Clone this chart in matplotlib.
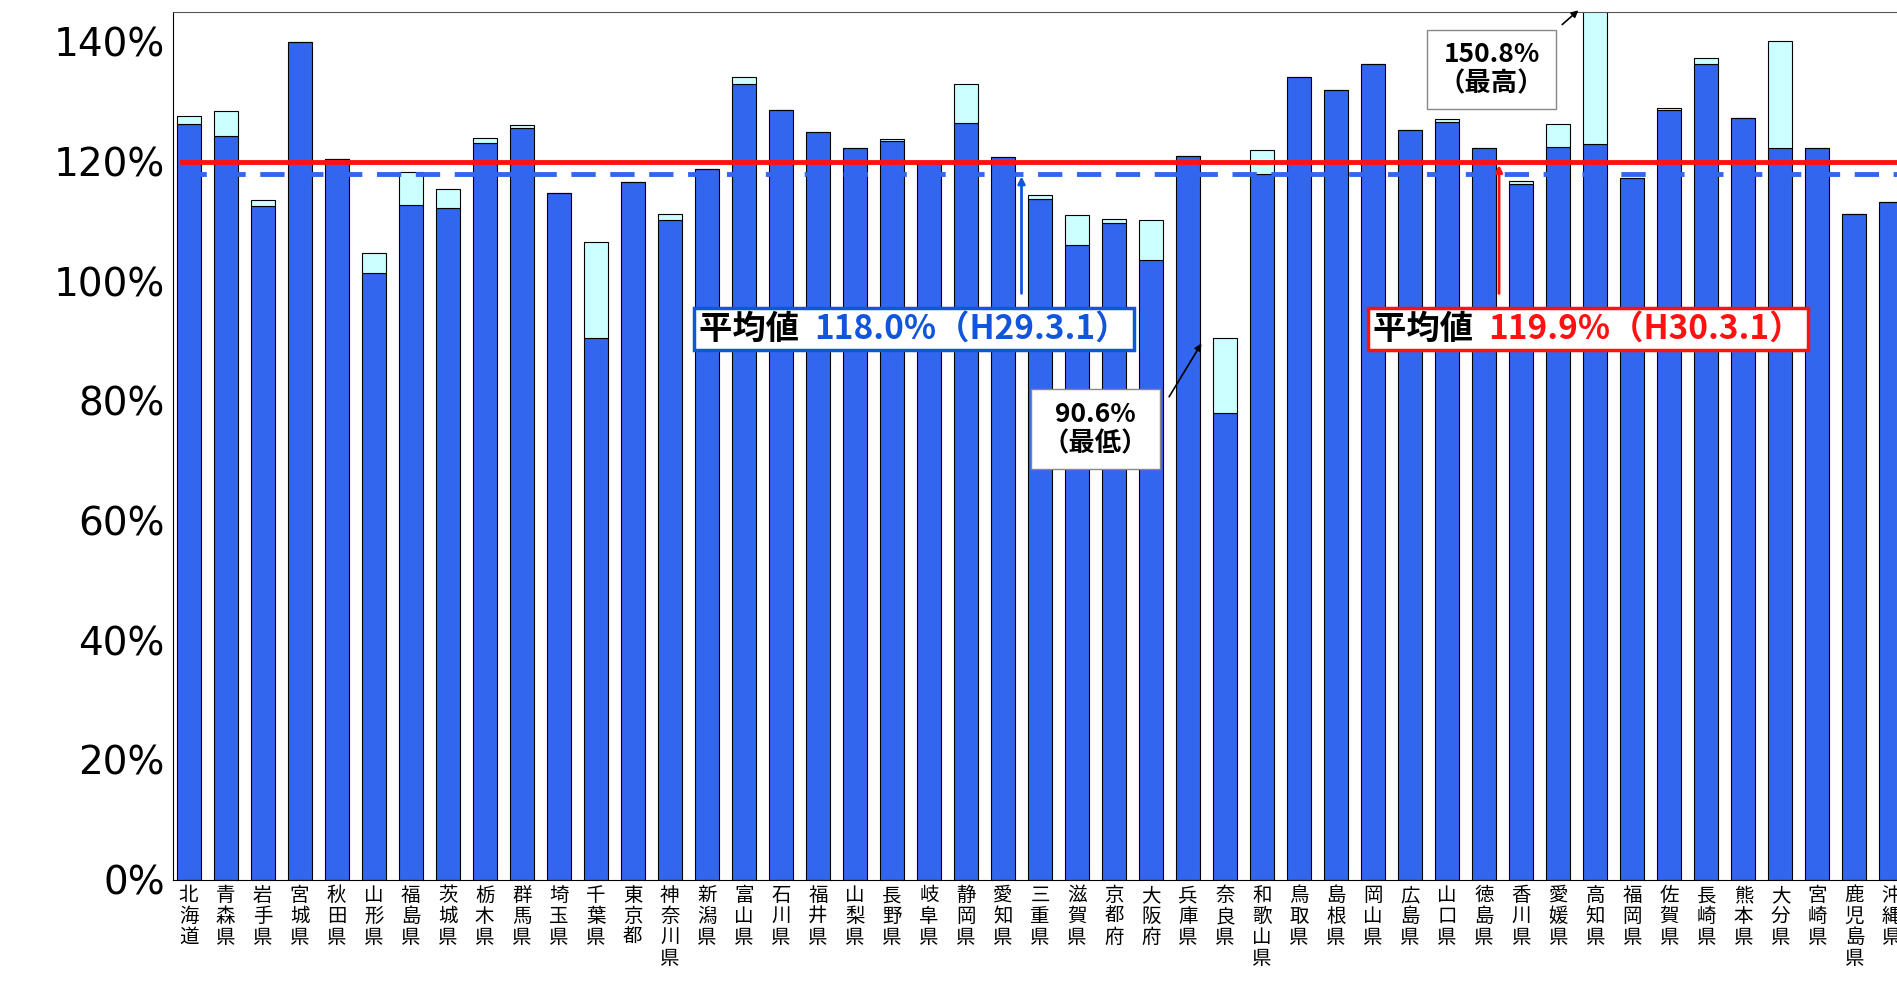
import matplotlib
matplotlib.use("Agg")
import matplotlib.pyplot as plt
from matplotlib.offsetbox import TextArea, HPacker, AnnotationBbox

plt.rcParams['font.family'] = ['Noto Sans CJK JP', 'DejaVu Sans']

prefs = ["北海道", "青森県", "岩手県", "宮城県", "秋田県", "山形県", "福島県", "茨城県", "栃木県", "群馬県",
         "埼玉県", "千葉県", "東京都", "神奈川県", "新潟県", "富山県", "石川県", "福井県", "山梨県", "長野県",
         "岐阜県", "静岡県", "愛知県", "三重県", "滋賀県", "京都府", "大阪府", "兵庫県", "奈良県", "和歌山県",
         "鳥取県", "島根県", "岡山県", "広島県", "山口県", "徳島県", "香川県", "愛媛県", "高知県", "福岡県",
         "佐賀県", "長崎県", "熊本県", "大分県", "宮崎県", "鹿児島県", "沖縄県"]
# lower of the two years (blue) and higher (top of cyan)
low = [126.3, 124.3, 112.6, 140.0, 120.5, 101.3, 112.8, 112.2, 123.1, 125.7,
       114.8, 90.5, 116.6, 110.2, 118.7, 133.0, 128.7, 124.9, 122.3, 123.4,
       119.9, 126.5, 120.7, 113.8, 106.0, 109.8, 103.5, 120.9, 78.0, 118.0,
       134.2, 132.0, 136.4, 125.3, 126.7, 122.3, 116.2, 122.5, 122.9, 117.2,
       128.6, 136.4, 127.3, 122.3, 122.3, 111.2, 113.2]
high = [127.7, 128.5, 113.6, 140.0, 120.5, 104.8, 118.3, 115.4, 123.9, 126.1,
        114.8, 106.6, 116.6, 111.2, 118.7, 134.2, 128.7, 124.9, 122.3, 123.7,
        119.9, 133.0, 120.7, 114.4, 111.0, 110.4, 110.2, 120.9, 90.6, 121.9,
        134.2, 132.0, 136.4, 125.3, 127.1, 122.3, 116.8, 126.3, 150.8, 117.2,
        128.9, 137.4, 127.3, 140.2, 122.3, 111.2, 113.2]
avg_h29 = 118.0
avg_h30 = 119.9

fig = plt.figure(figsize=(18.97, 9.88), dpi=100)
ax = fig.add_axes([0.0912, 0.1098, 0.9088, 0.878])

x = list(range(len(prefs)))
diff = [h - l for h, l in zip(high, low)]
ax.bar(x, low, width=0.65, color='#3366ee', edgecolor='black', linewidth=0.8, zorder=2)
ax.bar(x, diff, bottom=low, width=0.65, color='#ccffff', edgecolor='black', linewidth=0.8, zorder=2)

ax.axhline(avg_h30, xmin=0.005, color='#ff1111', linewidth=3.5, zorder=3)
ax.axhline(avg_h29, xmin=0.005, color='#3366ee', linewidth=3.5, linestyle=(0, (5, 3)), zorder=3)

ax.set_xlim(-0.42, 46.15)
ax.set_ylim(0, 145)
ax.set_yticks(range(0, 141, 20))
ax.set_yticklabels([f"{v}%" for v in range(0, 141, 20)], fontsize=28, family='DejaVu Sans')
ax.set_xticks(x)
ax.set_xticklabels(["\n".join(p) for p in prefs], fontsize=14, linespacing=1.0, va='top')
ax.tick_params(axis='x', length=0, pad=4)
ax.tick_params(axis='y', length=0, pad=6)
ax.spines['right'].set_visible(False)
ax.spines['top'].set_color('#555555')


def two_color_box(xy, label, value, color):
    t1 = TextArea(label, textprops=dict(fontsize=24, fontweight='bold', color='black'))
    t2 = TextArea(value, textprops=dict(fontsize=24, fontweight='bold', color=color))
    pack = HPacker(children=[t1, t2], align='center', pad=0, sep=0)
    ab = AnnotationBbox(pack, xy, frameon=True, pad=0.35, zorder=6,
                        bboxprops=dict(edgecolor=color, linewidth=2.5, facecolor='white'))
    ax.add_artist(ab)


two_color_box((19.6, 92), "平均値  ", "118.0%（H29.3.1）", '#1155dd')
two_color_box((37.8, 92), "平均値  ", "119.9%（H30.3.1）", '#ff1111')

ax.annotate("", xy=(22.5, avg_h29), xytext=(22.5, 97.5),
            arrowprops=dict(arrowstyle='-|>', color='#1155dd', lw=2), zorder=5)
ax.annotate("", xy=(35.4, avg_h30), xytext=(35.4, 97.5),
            arrowprops=dict(arrowstyle='-|>', color='#ff1111', lw=2), zorder=5)

bprops = dict(boxstyle='square,pad=0.45', facecolor='white', edgecolor='#888888')
ax.text(24.5, 75.3, "90.6%\n（最低）", fontsize=19, fontweight='bold', ha='center', va='center',
        linespacing=1.1, bbox=bprops, zorder=6)
ax.annotate("", xy=(27.4, 90.0), xytext=(26.45, 80.3),
            arrowprops=dict(arrowstyle='-|>', color='black', lw=1.2), zorder=5)
ax.text(35.2, 135.4, "150.8%\n（最高）", fontsize=19, fontweight='bold', ha='center', va='center',
        linespacing=1.1, bbox=bprops, zorder=6)
ax.annotate("", xy=(37.6, 145.6), xytext=(37.05, 142.6), annotation_clip=False,
            arrowprops=dict(arrowstyle='-|>', color='black', lw=1.2), zorder=5)

fig.savefig("out.png", dpi=100)
